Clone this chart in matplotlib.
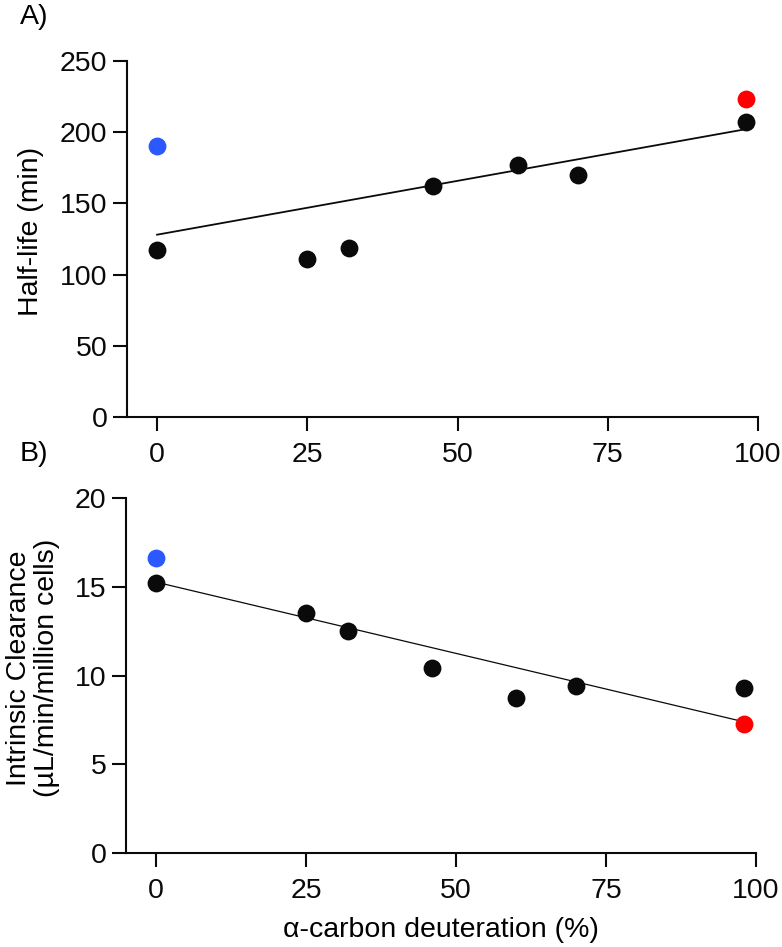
import numpy as np
import matplotlib
matplotlib.use('Agg')
import matplotlib.pyplot as plt

plt.rcParams['font.family'] = ['Liberation Sans', 'DejaVu Sans']

# deuteration (%) of the black points
deut = [0, 25, 32, 46, 60, 70, 98]
# half-life (min)
half_life = [117, 111, 119, 162.5, 177, 170, 207]
half_life_blue = 190   # at 0 %
half_life_red = 223    # at 98 %
# intrinsic clearance (uL/min/million cells)
clearance = [15.2, 13.5, 12.5, 10.4, 8.75, 9.4, 9.3]
clearance_blue = 16.6
clearance_red = 7.25
blue_x = 0
red_x = 98

xticks = [0, 25, 50, 75, 100]
black = '#0a0a0a'
blue = '#2c58ff'
red = '#ff0000'
fs = 20.5

fig = plt.figure(figsize=(7.82, 9.47), dpi=100)
ax1 = fig.add_axes([0.1624, 0.5597, 0.8069, 0.3759])
ax2 = fig.add_axes([0.1611, 0.0989, 0.8057, 0.3755])


def panel(ax, y, yb, yr, lw):
    allx = deut + [blue_x, red_x]
    ally = y + [yb, yr]
    slope, icpt = np.polyfit(allx, ally, 1)
    xx = np.array([min(allx), max(allx)])
    ax.plot(xx, slope * xx + icpt, color=black, lw=lw, zorder=2)
    ax.scatter(deut, y, s=165, color=black, zorder=3, linewidths=0)
    ax.scatter([blue_x], [yb], s=165, color=blue, zorder=3, linewidths=0)
    ax.scatter([red_x], [yr], s=165, color=red, zorder=3, linewidths=0)
    ax.set_xlim(-5, 100)
    ax.set_xticks(xticks)
    for s in ['top', 'right']:
        ax.spines[s].set_visible(False)
    for s in ['left', 'bottom']:
        ax.spines[s].set_linewidth(1.5)
        ax.spines[s].set_color(black)
    ax.tick_params(length=10, width=1.5, labelsize=fs, colors=black)
    ax.tick_params(axis='x', pad=8)
    ax.tick_params(axis='y', pad=4)


panel(ax1, half_life, half_life_blue, half_life_red, 1.3)
ax1.set_ylim(0, 250)
ax1.set_yticks([0, 50, 100, 150, 200, 250])
ax1.set_ylabel('Half-life (min)', fontsize=fs)
ax1.yaxis.set_label_coords(-0.152, 0.52)
ax1.yaxis.label.set_va('center')

panel(ax2, clearance, clearance_blue, clearance_red, 0.9)
ax2.set_ylim(0, 20)
ax2.set_yticks([0, 5, 10, 15, 20])
ax2.set_ylabel('Intrinsic Clearance\n(µL/min/million cells)', fontsize=fs,
               linespacing=1.1)
ax2.yaxis.set_label_coords(-0.148, 0.521)
ax2.yaxis.label.set_va('center')
ax2.set_xlabel('α-carbon deuteration (%)', fontsize=fs)
ax2.xaxis.set_label_coords(0.5, -0.216)
ax2.xaxis.label.set_va('center')

fig.text(0.025, 0.982, 'A)', fontsize=fs, va='center', ha='left')
fig.text(0.025, 0.521, 'B)', fontsize=fs, va='center', ha='left')

plt.savefig('out.png', dpi=100)
